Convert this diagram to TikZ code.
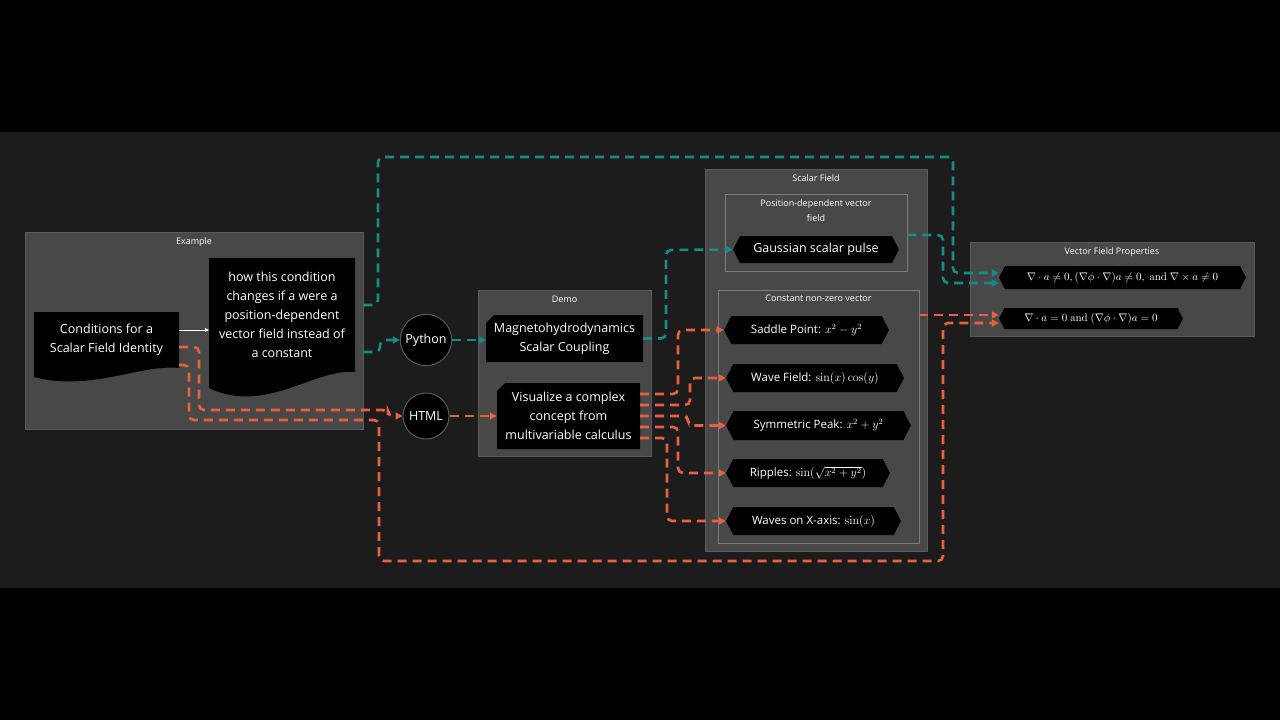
\documentclass[tikz,border=0pt]{standalone}
\usepackage[no-math]{fontspec}
\setmainfont{Open Sans}
\usetikzlibrary{arrows.meta,shapes.symbols,shapes.misc,positioning}

\definecolor{bandbg}{HTML}{1C1C1C}
\definecolor{clusfill}{HTML}{484848}
\definecolor{clusline}{HTML}{5A5A5A}
\definecolor{subline}{HTML}{7C7C7C}
\definecolor{tealln}{HTML}{178A8A}
\definecolor{orangeln}{HTML}{E8613F}

\begin{document}
\begin{tikzpicture}[x=1pt,y=-1pt]
\tikzset{
	clus/.style={rectangle, fill=clusfill, draw=clusline, line width=0.8pt, inner sep=0},
	sub/.style={rectangle, fill=clusfill, draw=subline, line width=0.7pt, inner sep=0},
	clab/.style={anchor=north, text=white, align=center, font=\fontsize{9}{15}\selectfont},
	box/.style={fill=black, text=white, align=center, inner sep=0, font=\fontsize{12.5}{19}\selectfont},
	card/.style={box, chamfered rectangle, chamfered rectangle corners=north west, chamfered rectangle xsep=4pt, chamfered rectangle ysep=4pt},
	hexa/.style={box, signal, signal to=east and west, signal pointer angle=125, font=\fontsize{11.5}{13}\selectfont},
	circ/.style={circle, fill=black, draw=clusline, line width=1pt, minimum size=46pt, text=white, font=\fontsize{12.5}{13}\selectfont},
	tl/.style={draw=tealln, line width=2.6pt, dash pattern=on 9pt off 6pt, rounded corners=5pt, -{Triangle[length=7pt,width=7pt]}},
	ol/.style={draw=orangeln, line width=2.6pt, dash pattern=on 9pt off 6pt, rounded corners=5pt, -{Triangle[length=7pt,width=7pt]}}
}

\useasboundingbox (0,0) rectangle (1280,720);
\fill[black] (0,0) rectangle (1280,720);
\fill[bandbg] (0,132) rectangle (1280,588);

% clusters
\node[clus, minimum width=338, minimum height=197] (c_ex) at (194,330.5) {};
\node[clab] at (c_ex.north) [yshift=-3pt] {Example};
\node[clus, minimum width=173, minimum height=166] (c_demo) at (564.5,373) {};
\node[clab] at (c_demo.north) [yshift=-3pt] {Demo};
\node[clus, minimum width=222, minimum height=382] (c_sf) at (816,360) {};
\node[clab] at (c_sf.north) [yshift=-3pt] {Scalar Field};
\node[sub, minimum width=182, minimum height=77] (c_pos) at (816,232.5) {};
\node[clab] at (c_pos.north) [yshift=-2pt] {Position-dependent vector\\field};
\node[sub, minimum width=201, minimum height=253] (c_const) at (818.5,416.5) {};
\node[clab] at (c_const.north) [yshift=-2pt] {Constant non-zero vector};
\node[clus, minimum width=284, minimum height=94] (c_vp) at (1112,289) {};
\node[clab] at (c_vp.north) [yshift=-3pt] {Vector Field Properties};

% Example
\fill[black] (34,312) -- (179,312) -- (179,368) .. controls (140,364) and (90,392) .. (34,377) -- cycle;
\node[box, fill=none, minimum width=145, minimum height=56] (cond) at (106.5,340) {Conditions for a\\Scalar Field Identity};
\fill[black] (209,258) -- (355,258) -- (355,372) .. controls (315,368) and (265,415) .. (209,388) -- cycle;
\node[box, fill=none, minimum width=146, minimum height=114] (how) at (282,315) {how this condition\\changes if a were a\\position-dependent\\vector field instead of\\a constant};

% Python / HTML
\node[circ] (python) at (426,340) {Python};
\node[circ] (html) at (426,416) {HTML};

% Demo
\node[card, minimum width=157, minimum height=47] (mhd) at (564.5,338.5) {Magnetohydrodynamics\\Scalar Coupling};
\node[card, minimum width=143, minimum height=66] (vis) at (568.5,416) {Visualize a complex\\concept from\\multivariable calculus};

% Scalar Field
\node[hexa, font=\fontsize{12.5}{13}\selectfont, minimum width=166, minimum height=27] (gauss) at (816,249.5) {Gaussian scalar pulse};
\node[hexa, minimum width=165, minimum height=28] (sad) at (806.5,330) {Saddle Point: $x^2-y^2$};
\node[hexa, minimum width=178, minimum height=28] (wave) at (815,378) {Wave Field: $\sin(x)\cos(y)$};
\node[hexa, minimum width=185, minimum height=29] (sym) at (818.5,425.5) {Symmetric Peak: $x^2+y^2$};
\node[hexa, minimum width=164, minimum height=28] (rip) at (808,473) {Ripples: $\sin(\sqrt{x^2+y^2})$};
\node[hexa, minimum width=175, minimum height=28] (wx) at (813.5,521) {Waves on X-axis: $\sin(x)$};

% Vector Field Properties
\node[hexa, font=\fontsize{11}{13}\selectfont, minimum width=247, minimum height=23] (v1) at (1122.5,277.5) {$\nabla\cdot a\neq 0, (\nabla\phi\cdot\nabla)a\neq 0, \mathrm{\ and\ } \nabla\times a\neq 0$};
\node[hexa, font=\fontsize{11}{13}\selectfont, minimum width=184, minimum height=21] (v2) at (1091,318.5) {$\nabla\cdot a=0 \mathrm{\ and\ } (\nabla\phi\cdot\nabla)a=0$};

% teal
\draw[tl] (c_ex.east |- 0,305) -- (378,305) -- (378,157) -- (953,157) -- (953,273) -- (v1.west |- 0,273);
\draw[tl] (c_ex.east |- 0,352) -- (380,352) -- (380,340) -- (python.west);
\draw[tl] (python.east) -- (mhd.west |- python.east);
\draw[tl] (mhd.east) -- (666,338.5) -- (666,250) -- (gauss.west);
\draw[tl] (c_pos.east |- 0,235) -- (943,235) -- (943,283) -- (v1.west |- 0,283);

% orange
\draw[ol] (cond.east |- 0,347) -- (199,347) -- (199,410) -- (388,410) -- (388,416) -- (html.west);
\draw[ol] (cond.east |- 0,365) -- (189,365) -- (189,420) -- (379,420) -- (379,561) -- (943,561) -- (943,323) -- (v2.west |- 0,323);
\draw[ol] (html.east) -- (vis.west |- html.east);
\draw[ol] (vis.east |- 0,394) -- (678,394) -- (678,330) -- (sad.west);
\draw[ol] (vis.east |- 0,405) -- (690,405) -- (690,378) -- (wave.west);
\draw[ol] (vis.east |- 0,416) -- (688,416) -- (688,425.5) -- (sym.west);
\draw[ol] (vis.east |- 0,427) -- (678,427) -- (678,473) -- (rip.west);
\draw[ol] (vis.east |- 0,438) -- (667,438) -- (667,521) -- (wx.west);
\draw[ol] (c_const.east |- 0,315) -- (v2.west |- 0,315);

% white link
\draw[white, line width=0.6pt, -{Triangle[length=4pt,width=4pt]}] (cond.east |- 0,330) -- (how.west |- 0,330);

\end{tikzpicture}
\end{document}
